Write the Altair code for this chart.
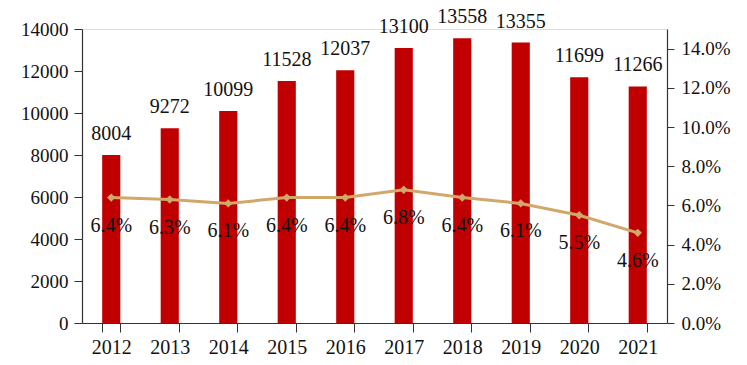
import altair as alt
import pandas as pd

years = ["2012", "2013", "2014", "2015", "2016", "2017", "2018", "2019", "2020", "2021"]
values = [8004, 9272, 10099, 11528, 12037, 13100, 13558, 13355, 11699, 11266]
rates = [0.064, 0.063, 0.061, 0.064, 0.064, 0.068, 0.064, 0.061, 0.055, 0.046]
rate_labels = ["6.4%", "6.3%", "6.1%", "6.4%", "6.4%", "6.8%", "6.4%", "6.1%", "5.5%", "4.6%"]

df = pd.DataFrame({"year": years, "value": values, "rate": rates, "rlabel": rate_labels})

FONT = "Times New Roman, Liberation Serif, Tinos, serif"
BAR = "#C00000"
LINE = "#D2A86A"

x = alt.X("year:N", title=None, sort=years,
          scale=alt.Scale(paddingInner=0.69, paddingOuter=0.345),
          axis=alt.Axis(labelAngle=0, tickBand="extent", tickSize=9, labelPadding=5,
                        labelFontSize=20, labelFont=FONT, labelColor="#111",
                        domainColor="#333", tickColor="#333", domainWidth=1.2))

yl = alt.Y("value:Q", title=None,
           scale=alt.Scale(domain=[0, 14000], nice=False),
           axis=alt.Axis(values=list(range(0, 14001, 2000)), format="d", tickSize=8, labelPadding=6,
                         labelFontSize=19, labelFont=FONT, labelColor="#111", grid=False,
                         domainColor="#333", tickColor="#333", domainWidth=1.2))

bars = alt.Chart(df).mark_bar(color=BAR).encode(x=x, y=yl)
bar_text = alt.Chart(df).mark_text(font=FONT, fontSize=20, baseline="alphabetic", dy=-15,
                                   color="#111").encode(x=x, y=yl, text="value:Q")
left = alt.layer(bars, bar_text)

yr = alt.Y("rate:Q", title=None,
           scale=alt.Scale(domain=[0, 0.15], nice=False),
           axis=alt.Axis(orient="right", values=[0, 0.02, 0.04, 0.06, 0.08, 0.10, 0.12, 0.14],
                         format=".1%", tickSize=7, labelPadding=7,
                         labelFontSize=19, labelFont=FONT, labelColor="#111", grid=False,
                         domainColor="#333", tickColor="#333", domainWidth=1.2))

line = alt.Chart(df).mark_line(color=LINE, strokeWidth=3).encode(x=x, y=yr)
pts = alt.Chart(df).mark_point(shape="diamond", filled=True, size=70, color=LINE,
                               opacity=1).encode(x=x, y=yr)
rate_text = alt.Chart(df).mark_text(font=FONT, fontSize=20, baseline="alphabetic", dy=34,
                                    color="#111").encode(x=x, y=yr, text="rlabel:N")
right = alt.layer(line, pts, rate_text)

chart = alt.layer(left, right).resolve_scale(y="independent").properties(
    width=585, height=294,
    autosize=alt.AutoSizeParams(type="none"),
    padding={"left": 74, "top": 21, "right": 64, "bottom": 33},
).configure_view(stroke=None).configure(background="white")

chart.save("out.html", embed_options={"renderer": "svg", "actions": False})
